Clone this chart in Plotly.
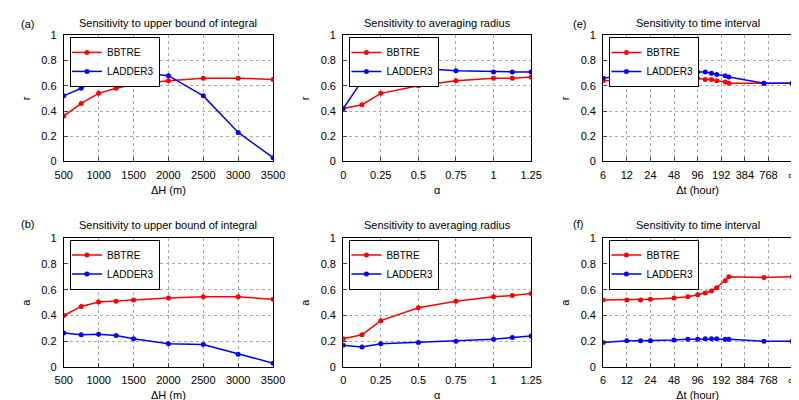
import numpy as np
import plotly.graph_objects as go

dH = [500, 750, 1000, 1250, 1500, 2000, 2500, 3000, 3500]
r_dH_bbtre = [0.36, 0.46, 0.54, 0.58, 0.61, 0.64, 0.66, 0.66, 0.65]
r_dH_ladder = [0.52, 0.58, 0.66, 0.70, 0.71, 0.68, 0.52, 0.23, 0.03]
a_dH_bbtre = [0.40, 0.47, 0.505, 0.51, 0.52, 0.535, 0.545, 0.545, 0.525]
a_dH_ladder = [0.265, 0.25, 0.255, 0.245, 0.22, 0.18, 0.175, 0.10, 0.03]

alpha = [0, 0.125, 0.25, 0.5, 0.75, 1, 1.125, 1.25]
r_al_bbtre = [0.42, 0.45, 0.54, 0.60, 0.64, 0.66, 0.66, 0.67]
r_al_ladder = [0.42, 0.64, 0.73, 0.74, 0.72, 0.71, 0.71, 0.71]
a_al_bbtre = [0.22, 0.25, 0.36, 0.46, 0.51, 0.545, 0.555, 0.57]
a_al_ladder = [0.17, 0.155, 0.18, 0.19, 0.20, 0.215, 0.23, 0.24]

dt = [6, 12, 18, 24, 48, 72, 96, 120, 144, 168, 216, 240, 672, float("inf")]
r_dt_bbtre = [0.64, 0.65, 0.65, 0.65, 0.66, 0.66, 0.66, 0.65, 0.65, 0.64, 0.63, 0.62, 0.62, 0.62]
r_dt_ladder = [0.66, 0.69, 0.69, 0.70, 0.71, 0.71, 0.71, 0.71, 0.70, 0.69, 0.68, 0.67, 0.62, 0.62]
a_dt_bbtre = [0.52, 0.52, 0.52, 0.525, 0.535, 0.545, 0.56, 0.575, 0.59, 0.615, 0.67, 0.70, 0.695, 0.70]
a_dt_ladder = [0.19, 0.205, 0.205, 0.205, 0.21, 0.215, 0.215, 0.22, 0.22, 0.22, 0.215, 0.215, 0.20, 0.20]
dt_ticks = ["6", "12", "24", "48", "96", "192", "384", "768", "∞"]

# dt axis: equally spaced doubling, infinity placed at the last tick
dt_x = [8 if np.isinf(v) else float(np.log2(v / 6)) for v in dt]

W, H = 799, 400
def px(x0, x1): return [x0 / W, x1 / W]
def py(ytop, ybot): return [1 - ybot / H, 1 - ytop / H]

cols = [px(48, 263), px(335, 528), px(602, 796)]
rows = [py(22, 152), py(231, 364)]

RED, BLUE = "#ff0000", "#0000ff"
fig = go.Figure()
panels = [
    (0, 0, dH, r_dH_bbtre, r_dH_ladder, "r"),
    (0, 1, alpha, r_al_bbtre, r_al_ladder, "r"),
    (0, 2, dt_x, r_dt_bbtre, r_dt_ladder, "r"),
    (1, 0, dH, a_dH_bbtre, a_dH_ladder, "a"),
    (1, 1, alpha, a_al_bbtre, a_al_ladder, "a"),
    (1, 2, dt_x, a_dt_bbtre, a_dt_ladder, "a"),
]
titles = ["Sensitivity to upper bound of integral", "Sensitivity to averaging radius", "Sensitivity to time interval"]
xlabels = ["ΔH (m)", "α", "Δt (hour)"]
font = dict(family="Liberation Sans, Arial", size=11, color="black")
ann = []
for i, (r, c, xs, yb, yl, yname) in enumerate(panels):
    n = i + 1
    sfx = "" if n == 1 else str(n)
    leg = "legend" if n == 1 else f"legend{n}"
    for name, ys, col in [("BBTRE", yb, RED), ("LADDER3", yl, BLUE)]:
        fig.add_trace(go.Scatter(x=xs, y=ys, name=name, mode="lines+markers",
                                 line=dict(color=col, width=1.5), marker=dict(size=5, color=col),
                                 xaxis="x" + sfx, yaxis="y" + sfx, legend=leg))
    common = dict(showline=True, linecolor="black", mirror=True, ticks="inside", ticklen=4,
                  showgrid=True, gridcolor="#aaaaaa", griddash="dot", zeroline=False,
                  tickfont=font)
    if c == 0:
        xa = dict(range=[500, 3500], tickvals=[500, 1000, 1500, 2000, 2500, 3000, 3500])
    elif c == 1:
        xa = dict(range=[0, 1.25], tickvals=[0, 0.25, 0.5, 0.75, 1, 1.25],
                  ticktext=["0", "0.25", "0.5", "0.75", "1", "1.25"])
    else:
        xa = dict(range=[0, 8], tickvals=list(range(9)), ticktext=dt_ticks)
    fig.update_layout(**{
        "xaxis" + sfx: dict(domain=cols[c], anchor="y" + sfx, **xa, **common, ticklabelstandoff=3,
                            title=dict(text=xlabels[c], font=font, standoff=6)),
        "yaxis" + sfx: dict(domain=rows[r], anchor="x" + sfx, range=[0, 1],
                            tickvals=[0, 0.2, 0.4, 0.6, 0.8, 1], ticktext=["0", "0.2", "0.4", "0.6", "0.8", "1"],
                            **common, ticklabelstandoff=4, title=dict(text=yname, font=font, standoff=8)),
        leg: dict(x=cols[c][0] + 0.008, y=rows[r][1] - 0.004, xanchor="left", yanchor="top",
                  bgcolor="white", bordercolor="black", borderwidth=1, font=dict(family=font["family"], size=10),
                  tracegroupgap=0, itemwidth=30, indentation=-4),
    })
    ann.append(dict(text=titles[c], x=sum(cols[c]) / 2, y=rows[r][1] + 0.012, xref="paper", yref="paper",
                    xanchor="center", yanchor="bottom", showarrow=False, font=font))

for lab, x, y in [("(a)", 2, 10), ("(b)", 2, 217), ("(e)", 569, 10), ("(f)", 569, 217)]:
    ann.append(dict(text=lab, x=x / W, y=1 - y / H, xref="paper", yref="paper", xanchor="left",
                    yanchor="middle", showarrow=False, font=font))

fig.update_layout(width=W, height=H, margin=dict(l=0, r=0, t=0, b=0), plot_bgcolor="white",
                  paper_bgcolor="white", annotations=ann, font=font)
fig.write_html("out.html")
